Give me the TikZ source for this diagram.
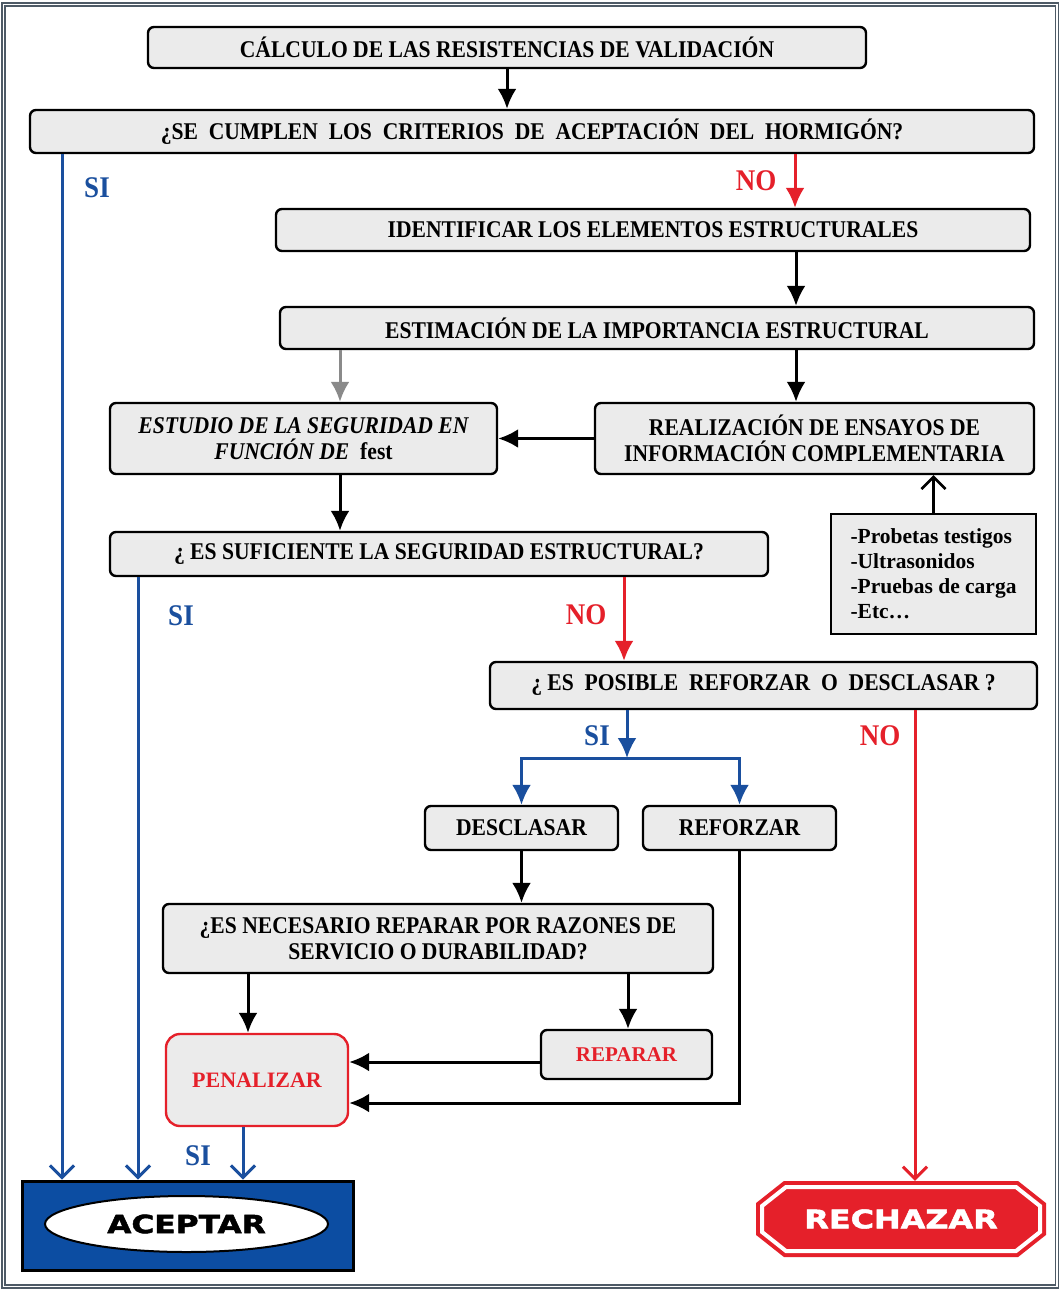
\documentclass[tikz,border=0pt]{standalone}
\usepackage{fontspec}
\setmainfont{Liberation Serif}
\newfontfamily\condfont[FakeStretch=0.9]{Liberation Serif}
\newfontfamily\heavyfont[FakeStretch=1.25,BoldFeatures={FakeBold=2}]{DejaVu Sans}
\usetikzlibrary{arrows.meta,shapes.geometric}
\definecolor{boxgray}{HTML}{EBEBEB}
\definecolor{siblue}{HTML}{1A4F9E}
\definecolor{nored}{HTML}{E5202A}
\definecolor{framegray}{HTML}{4E5A66}
\definecolor{acepblue}{HTML}{0C4DA2}
\definecolor{arrgray}{HTML}{8A8A8A}

\begin{document}
\begin{tikzpicture}[x=1pt,y=-1pt,>={Latex[length=20pt,width=19pt]},
  box/.style={draw,line width=2.4pt,fill=boxgray,rounded corners=6pt,inner sep=0pt,align=center,
    font=\condfont\bfseries\fontsize{24}{26}\selectfont},
  link/.style={line width=3pt,-{Latex[length=20pt,width=19pt]}},
  silink/.style={line width=3pt,draw=siblue},
  nolink/.style={line width=3pt,draw=nored},
  barb/.style={-{Straight Barb[length=12pt,width=24pt]}},
  silbl/.style={text=siblue,font=\condfont\bfseries\fontsize{30}{32}\selectfont},
  nolbl/.style={text=nored,font=\condfont\bfseries\fontsize{30}{32}\selectfont}]
\useasboundingbox (0,0) rectangle (1061,1289);
\fill[white] (0,0) rectangle (1061,1289);
\draw[framegray,line width=1.3pt,double=white,double distance=1.8pt] (3.5,4.5) rectangle (1057,1286.5);

\node[box,minimum width=718pt,minimum height=41pt] (calc) at (507,47.5) {CÁLCULO DE LAS RESISTENCIAS DE VALIDACIÓN};
\node[box,minimum width=1004pt,minimum height=43pt] (crit) at (532,131.5) {¿SE~~CUMPLEN~~LOS~~CRITERIOS~~DE~~ACEPTACIÓN~~DEL~~HORMIGÓN?};
\node[box,minimum width=754pt,minimum height=42pt] (ident) at (653,230) {IDENTIFICAR LOS ELEMENTOS ESTRUCTURALES};
\node[box,minimum width=754pt,minimum height=42pt] (estim) at (657,328) {ESTIMACIÓN DE LA IMPORTANCIA ESTRUCTURAL};
\node[box,minimum width=387pt,minimum height=71pt,font=\condfont\bfseries\itshape\fontsize{24}{26}\selectfont] (estud) at (303.5,438.5) {ESTUDIO DE LA SEGURIDAD EN\\FUNCIÓN DE \ {\upshape fest}};
\node[box,minimum width=439pt,minimum height=71pt] (ensay) at (814.5,438.5) {REALIZACIÓN DE ENSAYOS DE\\INFORMACIÓN COMPLEMENTARIA};
\node[box,rounded corners=0pt,minimum width=205pt,minimum height=120pt,align=left,
  font=\bfseries\fontsize{21.5}{25}\selectfont] (prueb) at (933.5,574) {-Probetas testigos\\-Ultrasonidos\\-Pruebas de carga\\-Etc…};
\node[box,minimum width=658pt,minimum height=44pt] (sufic) at (439,554) {¿ ES SUFICIENTE LA SEGURIDAD ESTRUCTURAL?};
\node[box,minimum width=547pt,minimum height=47pt] (posib) at (763.5,685.5) {¿ ES~~POSIBLE~~REFORZAR~~O~~DESCLASAR ?};
\node[box,minimum width=193pt,minimum height=44pt] (descl) at (521.5,828) {DESCLASAR};
\node[box,minimum width=193pt,minimum height=44pt] (refor) at (739.5,828) {REFORZAR};
\node[box,minimum width=550pt,minimum height=69pt] (neces) at (438,938.5) {¿ES NECESARIO REPARAR POR RAZONES DE\\SERVICIO O DURABILIDAD?};
\node[box,draw=nored,rounded corners=14pt,minimum width=182pt,minimum height=92pt,text=nored,
  font=\bfseries\fontsize{22}{24}\selectfont] (penal) at (257,1080) {PENALIZAR};
\node[box,minimum width=171pt,minimum height=49pt,text=nored,font=\bfseries\fontsize{21}{24}\selectfont] (repar) at (626.5,1054.5) {REPARAR};

% final boxes
\node[draw,line width=3pt,fill=acepblue,minimum width=331pt,minimum height=89pt] (acept) at (187.5,1225.5) {};
\node[ellipse,draw,line width=2pt,fill=white,minimum width=283pt,minimum height=56pt,inner sep=0pt,
  font=\heavyfont\bfseries\fontsize{25}{27}\selectfont] (aceptxt) at (186.5,1224) {ACEPTAR};
\draw[nored,fill=nored,line width=4pt,line join=miter,double=white,double distance=4pt]
  (762,1206) -- (786,1187) -- (1016,1187) -- (1040,1206) -- (1040,1232) -- (1016,1251) -- (786,1251) -- (762,1232) -- cycle;
\node[minimum width=290pt,minimum height=76pt,inner sep=0pt,text=white,
  font=\heavyfont\bfseries\fontsize{25.5}{27}\selectfont] (rech) at (901,1219) {RECHAZAR};

% connectors
\draw[link] (calc.south) -- (calc.south |- crit.north);
\draw[silink,barb] (62,0 |- crit.south) -- (62,0 |- acept.north);
\node[silbl] (si1) at (97,188) {SI};
\draw[nolink,link] (795,0 |- crit.south) -- (795,0 |- ident.north);
\node[nolbl] (no1) at (756,181) {NO};
\draw[link] (796,0 |- ident.south) -- (796,0 |- estim.north);
\draw[link,arrgray] (340,0 |- estim.south) -- (340,0 |- estud.north);
\draw[link] (796,0 |- estim.south) -- (796,0 |- ensay.north);
\draw[link] (ensay.west) -- (estud.east);
\draw[barb,line width=2.6pt] (prueb.north) -- (prueb.north |- ensay.south);
\draw[link] (340,0 |- estud.south) -- (340,0 |- sufic.north);
\draw[silink,barb] (138,0 |- sufic.south) -- (138,0 |- acept.north);
\node[silbl] (si2) at (181,616) {SI};
\draw[nolink,link] (624,0 |- sufic.south) -- (624,0 |- posib.north);
\node[nolbl] (no2) at (586,615) {NO};
\coordinate (split) at (627,758);
\draw[silink,link] (627,0 |- posib.south) -- (split);
\draw[silink,link] (split) -| (descl.north);
\draw[silink,link] (split) -| (refor.north);
\node[silbl] (si3) at (597,736) {SI};
\draw[nolink,barb] (915,0 |- posib.south) -- (915,0 |- rech.north);
\node[nolbl] (no3) at (880,736) {NO};
\draw[link] (descl.south) -- (descl.south |- neces.north);
\draw[link] (248,0 |- neces.south) -- (248,0 |- penal.north);
\draw[link] (628,0 |- neces.south) -- (628,0 |- repar.north);
\draw[link] (repar.west |- 0,1062) -- (penal.east |- 0,1062);
\draw[link] (refor.south) |- (penal.east |- 0,1103);
\draw[silink,barb] (243,0 |- penal.south) -- (243,0 |- acept.north);
\node[silbl] (si4) at (198,1156) {SI};
\end{tikzpicture}
\end{document}
